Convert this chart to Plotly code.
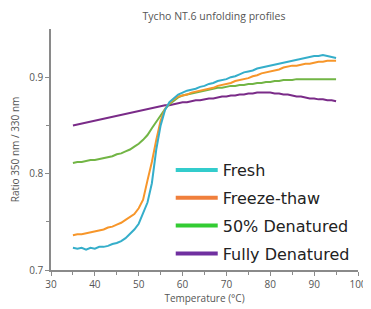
import plotly.graph_objects as go

temps = list(range(35, 96))

fresh = [0.723, 0.722, 0.723, 0.721, 0.723, 0.722, 0.724, 0.724, 0.725, 0.727, 0.728,
         0.730, 0.733, 0.737, 0.742, 0.748, 0.759, 0.770, 0.790, 0.825, 0.850,
         0.866, 0.874, 0.878, 0.882, 0.884, 0.886, 0.887, 0.888, 0.890, 0.891,
         0.893, 0.894, 0.896, 0.897, 0.898, 0.900, 0.901, 0.903, 0.905, 0.906,
         0.907, 0.909, 0.910, 0.911, 0.912, 0.913, 0.914, 0.915, 0.916, 0.917,
         0.918, 0.919, 0.920, 0.921, 0.922, 0.922, 0.923, 0.922, 0.921, 0.920]

freeze_thaw = [0.736, 0.737, 0.737, 0.738, 0.739, 0.740, 0.741, 0.742, 0.744, 0.745, 0.747,
               0.749, 0.752, 0.755, 0.758, 0.764, 0.773, 0.793, 0.812, 0.835, 0.855,
               0.867, 0.873, 0.877, 0.880, 0.881, 0.882, 0.884, 0.885, 0.886, 0.887,
               0.888, 0.889, 0.891, 0.892, 0.893, 0.894, 0.896, 0.897, 0.898, 0.899,
               0.901, 0.902, 0.904, 0.905, 0.906, 0.907, 0.908, 0.910, 0.911, 0.912,
               0.912, 0.913, 0.914, 0.914, 0.915, 0.916, 0.916, 0.917, 0.917, 0.917]

denatured_50 = [0.811, 0.812, 0.812, 0.813, 0.814, 0.814, 0.815, 0.816, 0.817, 0.818, 0.820,
                0.821, 0.823, 0.825, 0.828, 0.831, 0.835, 0.840, 0.847, 0.854, 0.861,
                0.867, 0.872, 0.876, 0.879, 0.881, 0.882, 0.883, 0.884, 0.885, 0.886,
                0.887, 0.888, 0.889, 0.889, 0.890, 0.891, 0.891, 0.892, 0.892, 0.893,
                0.893, 0.894, 0.894, 0.895, 0.895, 0.896, 0.896, 0.897, 0.897, 0.897,
                0.898, 0.898, 0.898, 0.898, 0.898, 0.898, 0.898, 0.898, 0.898, 0.898]

fully_denatured = [0.850, 0.851, 0.852, 0.853, 0.854, 0.855, 0.856, 0.857, 0.858, 0.859, 0.860,
                   0.861, 0.862, 0.863, 0.864, 0.865, 0.866, 0.867, 0.868, 0.869, 0.870,
                   0.871, 0.871, 0.872, 0.873, 0.874, 0.874, 0.875, 0.876, 0.876, 0.877,
                   0.878, 0.878, 0.879, 0.880, 0.880, 0.881, 0.881, 0.882, 0.882, 0.883,
                   0.883, 0.884, 0.884, 0.884, 0.884, 0.883, 0.883, 0.882, 0.882, 0.881,
                   0.880, 0.880, 0.879, 0.878, 0.878, 0.877, 0.877, 0.876, 0.876, 0.875]

series_names = ["Fresh", "Freeze-thaw", "50% Denatured", "Fully Denatured"]
series_values = [fresh, freeze_thaw, denatured_50, fully_denatured]
line_colors = ["#35AECA", "#F7962A", "#72B545", "#7A2B88"]
legend_colors = ["#33CCCC", "#F07F3C", "#33CC33", "#7030A0"]

x_ticks = [30, 40, 50, 60, 70, 80, 90, 100]
y_ticks = [0.7, 0.8, 0.9]

fig = go.Figure()

# data traces (drawn in reverse so Fresh is on top)
for name, vals, col in reversed(list(zip(series_names, series_values, line_colors))):
    fig.add_trace(go.Scatter(x=temps, y=vals, mode="lines", name=name,
                             line=dict(color=col, width=2), showlegend=False,
                             hoverinfo="skip"))

# legend entries
for i, (name, col) in enumerate(zip(series_names, legend_colors)):
    fig.add_trace(go.Scatter(x=[None], y=[None], mode="lines", name=name,
                             line=dict(color=col, width=4), legendgroup=f"g{i}",
                             showlegend=True))

axis_col = "#8a8a8a"
tick_font = dict(family="Open Sans, sans-serif", size=10, color="#555555")

# the page body has an 8px margin, so the figure is sized to fit the window
W, H = 363, 301

fig.update_layout(
    width=W, height=H,
    margin=dict(l=43, r=13, t=21, b=39, autoexpand=False),
    plot_bgcolor="white", paper_bgcolor="white",
    title=dict(text="Tycho NT.6 unfolding profiles", x=(214 - 8) / W, xanchor="center",
               y=1 - 8 / H, yanchor="middle", automargin=False,
               font=dict(family="Open Sans, sans-serif", size=10.5, color="#555555")),
    legend=dict(x=0.39, y=0.485, xanchor="left", yanchor="top",
                bgcolor="rgba(0,0,0,0)", tracegroupgap=4, itemwidth=42,
                font=dict(family="DejaVu Sans, sans-serif", size=16, color="#222222")),
    xaxis=dict(range=[30, 100], tickvals=x_ticks, ticktext=[str(v) for v in x_ticks],
               showgrid=False, zeroline=False, showline=True, linecolor=axis_col,
               linewidth=1.5, ticks="outside", ticklen=4, tickcolor=axis_col,
               tickfont=tick_font, automargin=False,
               minor=dict(dtick=5, tick0=35, ticks="outside", ticklen=3, tickcolor=axis_col),
               title=dict(text="Temperature (°C)", standoff=4,
                          font=dict(family="Open Sans, sans-serif", size=10, color="#555555"))),
    yaxis=dict(range=[0.7, 0.95], tickvals=y_ticks, ticktext=["0.7", "0.8", "0.9"],
               showgrid=False, zeroline=False, showline=True, linecolor=axis_col,
               linewidth=1.5, ticks="outside", ticklen=4, tickcolor=axis_col,
               tickfont=tick_font, automargin=False,
               minor=dict(tickvals=[0.75, 0.85], ticks="outside", ticklen=3, tickcolor=axis_col),
               title=dict(text="Ratio 350 nm / 330 nm", standoff=10,
                          font=dict(family="Open Sans, sans-serif", size=10, color="#555555"))),
)

fig.write_html("out.html")
